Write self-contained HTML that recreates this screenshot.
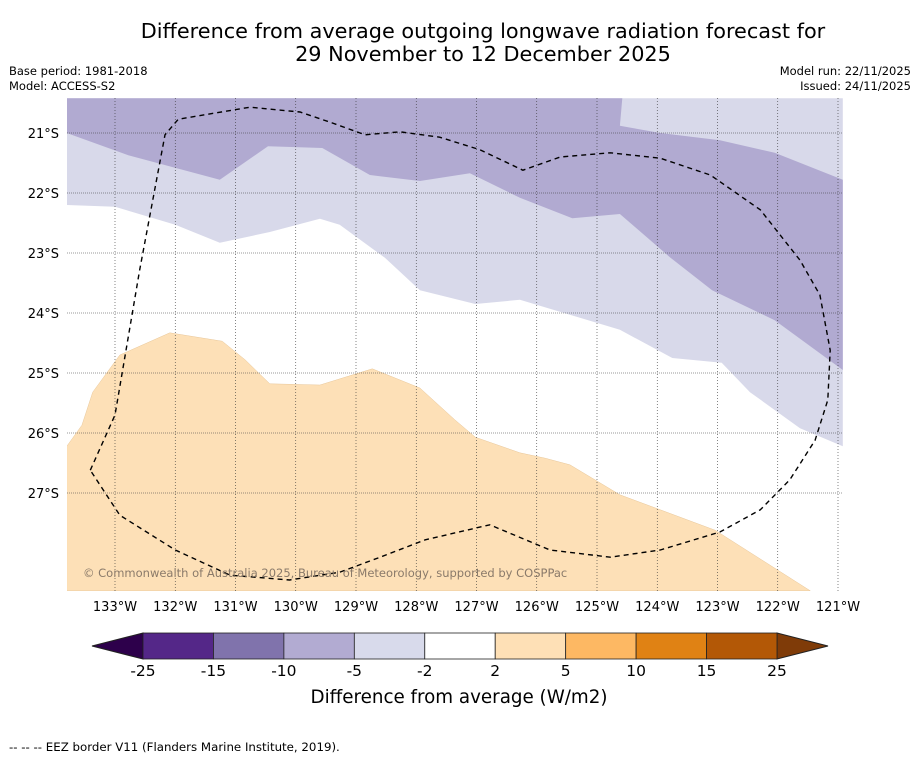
<!DOCTYPE html>
<html><head><meta charset="utf-8"><style>
body{margin:0;background:#fff;width:919px;height:758px;overflow:hidden;font-family:"DejaVu Sans","Liberation Sans",sans-serif}
svg{position:absolute;left:0;top:0}
</style></head><body>
<svg id="c" width="919" height="758" viewBox="0 0 919 758">
<text x="483" y="38" text-anchor="middle" font-size="20.8">Difference from average outgoing longwave radiation forecast for</text>
<text x="483" y="61" text-anchor="middle" font-size="20.8">29 November to 12 December 2025</text>
<text x="9" y="75" font-size="11.5">Base period: 1981-2018</text>
<text x="9" y="90" font-size="11.5">Model: ACCESS-S2</text>
<text x="911" y="75" font-size="11.5" text-anchor="end">Model run: 22/11/2025</text>
<text x="911" y="90" font-size="11.5" text-anchor="end">Issued: 24/11/2025</text>
<defs><clipPath id="mc"><rect x="67" y="98" width="776" height="493"/></clipPath></defs>
<g id="map" clip-path="url(#mc)"></g>
<g id="axes"></g>
<g id="cbar"></g>
<text x="459" y="703" text-anchor="middle" font-size="18.3">Difference from average (W/m2)</text>
<text x="9" y="751" font-size="11.8">--  --  -- EEZ border V11 (Flanders Marine Institute, 2019).</text>
</svg>
<script>
// Map data: contour polygons in degrees (lon °W, lat °S)
const lightLon=[133.8,133.8,133.0,132.0,131.26,130.43,129.6,129.27,128.52,127.94,127.02,126.28,125.45,124.62,123.75,122.93,122.46,121.63,120.92,120.92];
const lightLat=[20.42,22.2,22.23,22.53,22.83,22.65,22.43,22.53,23.08,23.62,23.85,23.78,24.03,24.28,24.75,24.83,25.32,25.92,26.22,20.42];
const darkLon=[133.8,133.8,132.78,131.26,130.46,129.56,128.77,127.94,127.11,126.28,125.41,124.62,123.79,123.09,122.05,120.92,120.92,122.05,122.96,123.95,124.62,124.58];
const darkLat=[20.42,21.0,21.37,21.78,21.22,21.25,21.7,21.8,21.67,22.08,22.42,22.35,23.07,23.62,24.12,24.95,21.78,21.33,21.12,21.0,20.88,20.42];
const orangeLon=[133.8,133.55,133.37,132.92,132.09,131.22,130.84,130.43,129.6,128.73,127.94,127.36,127.02,126.28,125.86,125.45,124.62,123.95,123.04,121.46,133.8];
const orangeLat=[26.22,25.87,25.32,24.7,24.33,24.47,24.78,25.18,25.2,24.93,25.25,25.78,26.07,26.33,26.42,26.53,27.03,27.28,27.62,28.63,28.63];
const eezLon=[133.41,133.0,132.59,132.17,131.95,130.76,129.93,129.43,128.85,128.27,127.61,126.94,126.23,125.61,124.78,123.95,123.12,122.29,121.63,121.3,121.13,121.17,121.38,121.8,122.29,122.96,123.95,124.78,125.78,126.78,127.85,128.6,129.27,130.1,131.09,132.0,132.92,133.41];
const eezLat=[26.62,25.7,23.28,21.03,20.77,20.57,20.65,20.82,21.03,20.98,21.07,21.28,21.62,21.4,21.33,21.42,21.7,22.28,23.12,23.7,24.62,25.45,26.12,26.78,27.28,27.65,27.95,28.07,27.95,27.53,27.78,28.07,28.32,28.45,28.37,27.95,27.37,26.62];
const lonTicks=[133,132,131,130,129,128,127,126,125,124,123,122,121];
const latTicks=[21,22,23,24,25,26,27];
const cbBounds=[-25,-15,-10,-5,-2,2,5,10,15,25];
const cbColors=['#542788','#8073ac','#b2abd2','#d8daeb','#ffffff','#fee0b6','#fdb863','#e08214','#b35806'];

const NS='http://www.w3.org/2000/svg';
const X=w=>115+(133-w)*60.25;
const Y=s=>133+(s-21)*60;
function mk(t,a,p){const e=document.createElementNS(NS,t);for(const k in a)e.setAttribute(k,a[k]);p.appendChild(e);return e;}
const map=document.getElementById('map'),axes=document.getElementById('axes'),cb=document.getElementById('cbar');
function pts(lo,la){return lo.map((v,i)=>X(v).toFixed(1)+','+Y(la[i]).toFixed(1)).join(' ');}
let bg=mk('rect',{x:67,y:98,width:776,height:493,fill:'#fff'},map);


let p1=mk('polygon',{points:pts(lightLon,lightLat),fill:'#d8d9ea'},map);


let p2=mk('polygon',{points:pts(darkLon,darkLat),fill:'#b1aad1'},map);


let p3=mk('polygon',{points:pts(orangeLon,orangeLat),fill:'#fde0b7',stroke:'#e8c79a','stroke-width':0.5},map);


lonTicks.forEach(w=>{
  let l=mk('line',{x1:X(w),x2:X(w),y1:98,y2:591,stroke:'#333','stroke-width':0.6,'stroke-dasharray':'1,2'},map);
  
  
  let t=mk('text',{x:X(w),y:611,'text-anchor':'middle','font-size':13},axes);t.textContent=w+'°W';
  
  
});
latTicks.forEach(s=>{
  let l=mk('line',{x1:67,x2:843,y1:Y(s),y2:Y(s),stroke:'#333','stroke-width':0.6,'stroke-dasharray':'1,1'},map);
  
  
  let t=mk('text',{x:59,y:Y(s)+5,'text-anchor':'end','font-size':13},axes);t.textContent=s+'°S';
  
  
});
let e=mk('polyline',{points:pts(eezLon,eezLat),fill:'none',stroke:'#000','stroke-width':1.4,'stroke-dasharray':'5,4'},map);


let cp=mk('text',{x:83,y:577,'font-size':11.5,fill:'#8a7a6a'},map);cp.textContent='© Commonwealth of Australia 2025, Bureau of Meteorology, supported by COSPPac';


// colorbar
const cx0=143,cx1=777,cy=633,ch=26,sw=(cx1-cx0)/cbColors.length;
let la=mk('polygon',{points:`${cx0},${cy} 92,${cy+ch/2} ${cx0},${cy+ch}`,fill:'#2d004b',stroke:'#222','stroke-width':1},cb);


let ra=mk('polygon',{points:`${cx1},${cy} 828,${cy+ch/2} ${cx1},${cy+ch}`,fill:'#7f3b08',stroke:'#222','stroke-width':1},cb);


cbColors.forEach((c,i)=>{
  let r=mk('rect',{x:cx0+i*sw,y:cy,width:sw,height:ch,fill:c,stroke:'#222','stroke-width':0.8},cb);
  
  
});
cbBounds.forEach((b,i)=>{
  let t=mk('text',{x:cx0+i*sw,y:676,'text-anchor':'middle','font-size':15.5},cb);t.textContent=b;
  
  
});
</script>
</body></html>
